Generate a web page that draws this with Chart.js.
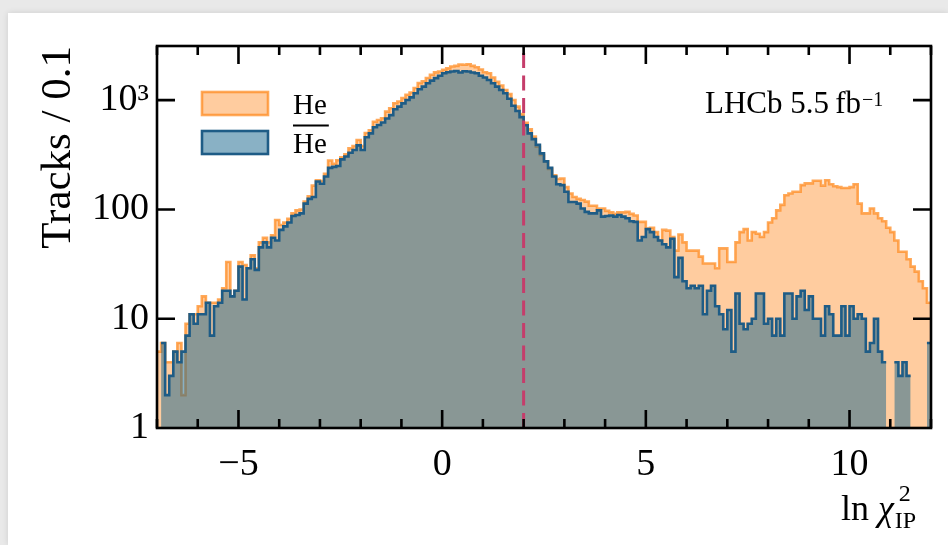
<!DOCTYPE html>
<html>
<head>
<meta charset="utf-8">
<script src="https://cdn.jsdelivr.net/npm/chart.js@4.4.0/dist/chart.umd.min.js"></script>
<style>
  html, body { margin: 0; padding: 0; width: 948px; height: 545px; overflow: hidden; background: #e9e9e9; }
  #card { position: absolute; left: 8px; top: 13px; width: 940px; height: 532px; background: #fff; box-shadow: 0 0 6px rgba(0,0,0,0.12); }
  #wrap { position: absolute; left: 0; top: 0; width: 948px; height: 545px; }
</style>
</head>
<body>
<div id="card"></div>
<div id="wrap"><canvas id="histChart"></canvas></div>
<script>
// histogram binning: ln chi2_IP from -7 to 12 in steps of 0.1
const binStart = -7, binWidth = 0.1;

const heCounts = [
    5, 6, 4, 4, 5, 6, 2, 9, 11, 11,
    13, 16, 14, 14, 14, 15, 19, 33, 16, 18,
    33, 31, 29, 38, 29, 50, 55, 50, 58, 80,
    72, 76, 82, 92, 98, 100, 118, 132, 165, 185,
    182, 212, 280, 262, 282, 300, 320, 362, 380, 432,
    380, 500, 530, 635, 658, 682, 785, 843, 937, 972,
    1043, 1120, 1175, 1290, 1433, 1485, 1594, 1710, 1795, 1830,
    1895, 1955, 2029, 2060, 2120, 2110, 2130, 2060, 2000, 1910,
    1800, 1763, 1610, 1470, 1360, 1240, 1140, 1004, 872, 745,
    620, 540, 465, 375, 315, 275, 235, 205, 190, 192,
    160, 140, 130, 125, 122, 118, 108, 108, 102, 102,
    97, 94, 91, 94, 94, 95, 91, 88, 77, 77,
    67, 68, 62, 52, 65, 64, 56, 42, 59, 50,
    42, 42, 42, 37, 32, 32, 32, 29, 44, 44,
    33, 33, 50, 62, 66, 52, 62, 60, 56, 62,
    76, 83, 98, 110, 135, 140, 145, 145, 167, 173,
    173, 183, 183, 165, 185, 170, 163, 160, 157, 157,
    160, 170, 113, 92, 92, 102, 92, 83, 78, 68,
    62, 52, 41, 41, 35, 30, 27, 22, 19, 14
];

const antiHeCounts = [
    0, 6, 2, 3, 5, 4, 5, 7, 11, 9,
    11, 11, 14, 7, 13, 14, 18, 18, 16, 18,
    30, 15, 29, 35, 28, 45, 50, 45, 55, 52,
    65, 70, 76, 87, 89, 92, 113, 125, 130, 180,
    172, 200, 240, 245, 250, 287, 305, 330, 350, 386,
    350, 458, 497, 565, 593, 624, 680, 730, 825, 872,
    935, 1004, 1060, 1155, 1260, 1330, 1430, 1510, 1590, 1670,
    1763, 1800, 1830, 1850, 1790, 1840, 1830, 1790, 1763, 1670,
    1610, 1531, 1430, 1330, 1240, 1155, 1030, 890, 795, 700,
    590, 497, 440, 390, 326, 275, 240, 200, 170, 167,
    145, 117, 117, 113, 102, 95, 92, 92, 98, 86,
    87, 88, 86, 89, 86, 83, 78, 77, 52, 56,
    66, 62, 56, 52, 48, 45, 54, 24, 36, 22,
    19, 20, 19, 20, 11, 18, 20, 13, 11, 8,
    12, 5, 17, 9, 8, 9, 10, 17, 17, 9,
    10, 7, 10, 7, 17, 17, 10, 16, 18, 12,
    16, 10, 10, 7, 13, 11, 7, 7, 13, 7,
    13, 10, 11, 10, 5, 6, 10, 5, 4, 4,
    0, 4, 3, 4, 3, 3, 0, 2, 0, 6
];

const xTickValues = [-5, 0, 5, 10];
const xTickLabels = ['\u22125', '0', '5', '10'];
const yTickValues = [1, 10, 100, 1000];
const yTickLabels = ['1', '10', '100', '10\u00b3'];
const cutValue = 2;
const yMin = 1, yMax = 3130;

const heLine = 'rgba(255,140,35,0.75)', heFill = 'rgba(255,127,14,0.4)';
const antiLine = 'rgb(30,92,134)', antiFill = 'rgba(20,100,140,0.5)';
const serif = '"Liberation Serif", "Times New Roman", serif';

Chart.defaults.font.family = serif;
Chart.defaults.color = '#000';

// points on the left edge of each bin, plus one closing point on the last edge
function toSteps(counts) {
    const pts = counts.map((c, i) => ({ x: binStart + i * binWidth, y: c }));
    pts.push({ x: binStart + counts.length * binWidth, y: counts[counts.length - 1] });
    return pts;
}

const decorations = {
    id: 'decorations',
    afterDatasetsDraw(chart) {
        const { ctx, chartArea: a, scales: { x, y } } = chart;
        ctx.save();
        ctx.strokeStyle = '#000';
        ctx.lineWidth = 2.6;
        ctx.beginPath();
        // inward ticks, bottom and top
        for (let v = Math.ceil(x.min); v <= Math.floor(x.max); v++) {
            const px = x.getPixelForValue(v);
            const len = xTickValues.includes(v) ? 18 : 9;
            ctx.moveTo(px, a.bottom); ctx.lineTo(px, a.bottom - len);
            ctx.moveTo(px, a.top); ctx.lineTo(px, a.top + len);
        }
        // inward ticks, left and right
        yTickValues.forEach(v => {
            if (v <= yMin) return;
            const py = y.getPixelForValue(v);
            ctx.moveTo(a.left, py); ctx.lineTo(a.left + 18, py);
            ctx.moveTo(a.right, py); ctx.lineTo(a.right - 18, py);
        });
        ctx.stroke();
        ctx.strokeRect(a.left, a.top, a.right - a.left, a.bottom - a.top);
        ctx.restore();
    },
    afterDraw(chart) {
        const { ctx, chartArea: a } = chart;
        ctx.save();

        // legend
        const rows = [
            { top: a.top + 46, fill: heFill, line: heLine, text: 'He', bar: false },
            { top: a.top + 85, fill: antiFill, line: antiLine, text: 'He', bar: true }
        ];
        const bx = a.left + 45;
        rows.forEach(r => {
            ctx.fillStyle = r.fill;
            ctx.fillRect(bx, r.top, 66, 23);
            ctx.strokeStyle = r.line;
            ctx.lineWidth = 2.6;
            ctx.strokeRect(bx, r.top, 66, 23);
            ctx.fillStyle = '#000';
            ctx.font = '29px ' + serif;
            ctx.textBaseline = 'alphabetic';
            ctx.textAlign = 'left';
            const tx = a.left + 136, ty = r.top + 21.5;
            ctx.fillText(r.text, tx, ty);
            if (r.bar) {
                const w = ctx.measureText(r.text).width;
                ctx.strokeStyle = '#000';
                ctx.lineWidth = 1.8;
                ctx.beginPath();
                ctx.moveTo(tx, r.top - 5.5);
                ctx.lineTo(tx + w + 2, r.top - 5.5);
                ctx.stroke();
            }
        });

        // experiment label
        ctx.fillStyle = '#000';
        ctx.font = '31px ' + serif;
        const lx = a.right - 226, ly = a.top + 67;
        const main = 'LHCb 5.5\u2009fb';
        ctx.fillText(main, lx, ly);
        const mw = ctx.measureText(main).width;
        ctx.font = '20px ' + serif;
        ctx.fillText('\u22121', lx + mw + 1, ly - 7);

        // x axis title: ln chi^2_IP
        const xb = a.bottom + 92;
        let cx = a.right - 90;
        ctx.font = '36px ' + serif;
        ctx.fillText('ln ', cx, xb);
        cx += ctx.measureText('ln ').width;
        ctx.font = 'italic 36px ' + serif;
        ctx.fillText('\u03c7', cx, xb);
        cx += ctx.measureText('\u03c7').width + 1;
        ctx.font = '24px ' + serif;
        ctx.fillText('2', cx + 4, xb - 19);
        ctx.fillText('IP', cx, xb + 8);

        ctx.restore();
    }
};

const ctx = document.getElementById('histChart').getContext('2d');
const histChart = new Chart(ctx, {
    type: 'line',
    data: {
        datasets: [{
            label: 'cut',
            data: [{ x: cutValue, y: yMin }, { x: cutValue, y: yMax }],
            borderColor: '#c53d6b',
            borderWidth: 3,
            borderDash: [15, 7.5],
            pointRadius: 0,
            fill: false
        }, {
            label: 'anti-He',
            data: toSteps(antiHeCounts),
            stepped: true,
            borderColor: antiLine,
            backgroundColor: antiFill,
            borderWidth: 2.6,
            pointRadius: 0,
            fill: 'start'
        }, {
            label: 'He',
            data: toSteps(heCounts),
            stepped: true,
            borderColor: heLine,
            backgroundColor: heFill,
            borderWidth: 2.6,
            pointRadius: 0,
            fill: 'start'
        }]
    },
    options: {
        responsive: true,
        maintainAspectRatio: false,
        animation: false,
        devicePixelRatio: 1,
        layout: { padding: { left: 0, top: 46, right: 17, bottom: 0 } },
        plugins: {
            legend: { display: false },
            tooltip: { enabled: false }
        },
        scales: {
            x: {
                type: 'linear',
                min: binStart,
                max: binStart + heCounts.length * binWidth,
                grid: { display: false, drawTicks: false },
                border: { display: false },
                afterBuildTicks: s => { s.ticks = xTickValues.map(v => ({ value: v })); },
                afterFit: s => { s.height = 117; },
                ticks: {
                    padding: 14,
                    maxRotation: 0,
                    font: { size: 38 },
                    callback: v => xTickLabels[xTickValues.indexOf(v)]
                }
            },
            y: {
                type: 'logarithmic',
                min: yMin,
                max: yMax,
                grid: { display: false, drawTicks: false },
                border: { display: false },
                afterBuildTicks: s => { s.ticks = yTickValues.map(v => ({ value: v })); },
                afterFit: s => { s.width = 157; },
                ticks: {
                    padding: 8,
                    font: { size: 38 },
                    callback: v => yTickLabels[yTickValues.indexOf(v)]
                },
                title: {
                    display: true,
                    text: 'Tracks / 0.1',
                    align: 'end',
                    font: { size: 43 },
                    padding: { top: 33, bottom: 0 }
                }
            }
        }
    },
    plugins: [decorations]
});
</script>
</body>
</html>
